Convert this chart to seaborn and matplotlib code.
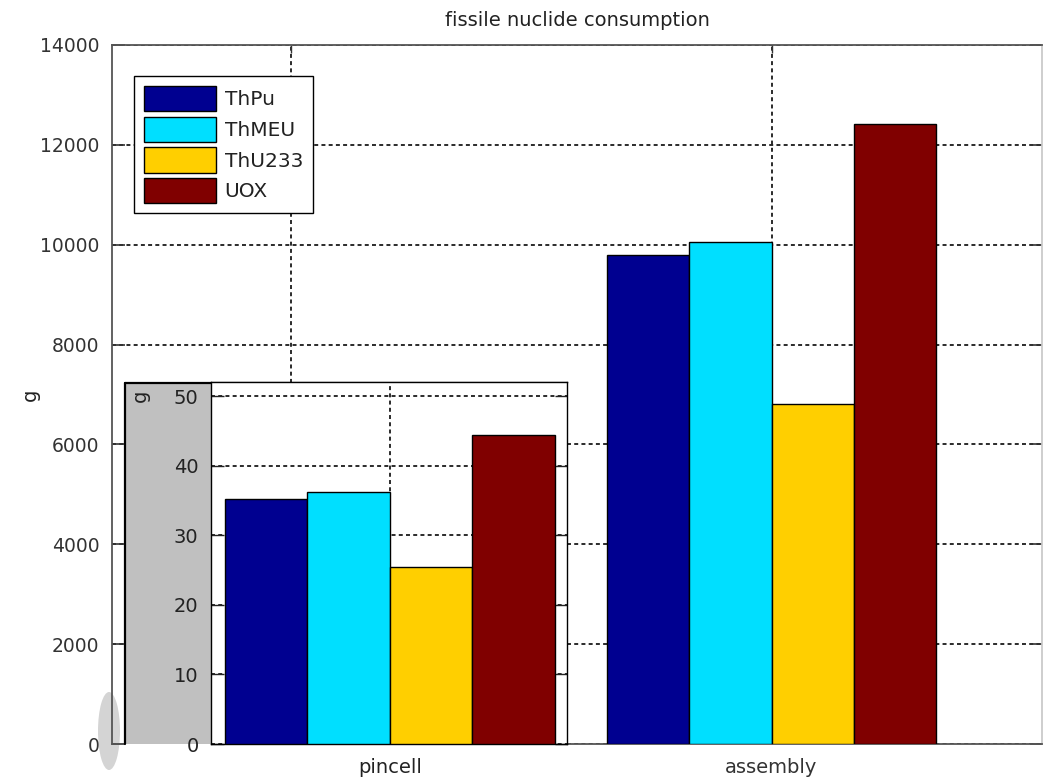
import matplotlib
matplotlib.use("Agg")
import matplotlib.pyplot as plt
from matplotlib.patches import Patch, Ellipse, Rectangle
import seaborn as sns
import pandas as pd

# ---- data ----
cases = ["pincell", "assembly"]
fuels = ["ThPu", "ThMEU", "ThU233", "UOX"]
pincell_g = [35.3, 36.2, 25.4, 44.4]
assembly_g = [9800, 10060, 6800, 12410]
fuel_colors = ["#000090", "#00DFFF", "#FFCF00", "#800000"]
main_yticks = [0, 2000, 4000, 6000, 8000, 10000, 12000, 14000]
inset_yticks = [0, 10, 20, 30, 40, 50]

df = pd.DataFrame({
    "case": [c for c in cases for _ in fuels],
    "fuel": fuels * len(cases),
    "g": pincell_g + assembly_g,
})
df_pin = df[df["case"] == cases[0]]

sns.set_theme(style="white")
plt.rcParams["font.family"] = ["DejaVu Sans"]

W, H = 1043, 781
fig = plt.figure(figsize=(W / 100, H / 100), dpi=100)
fig.patch.set_facecolor("white")


def fx(px):
    return px / W


def fy(py):
    return 1 - py / H


grid_kw = dict(color="#1a1a1a", linewidth=1.3, linestyle=(0, (2.2, 1.8)))
group_width = 0.686

# ---- main axes ----
ax = fig.add_axes([fx(112), fy(744), fx(1042) - fx(112), fy(45) - fy(744)])
ax.set_facecolor("none")
sns.barplot(data=df, x="case", y="g", hue="fuel", order=cases, hue_order=fuels,
            palette=fuel_colors, width=group_width, edgecolor="black",
            linewidth=1.0, saturation=1, ax=ax, legend=False, zorder=3)
ax.set_xlim(-0.3715, 1.5624)
ax.set_ylim(0, 14000)
ax.set_yticks(main_yticks)
ax.set_yticklabels([str(v) for v in main_yticks], fontsize=13.5, color="#222222")
ax.set_xticks([0, 1])
ax.set_xticklabels(["", cases[1]], fontsize=14, color="#222222")
ax.set_xlabel("")
ax.set_ylabel("")
ax.grid(True, axis="both", **grid_kw)
ax.set_axisbelow(True)
ax.tick_params(axis="y", direction="in", length=9, width=1.2, left=True,
               right=True, pad=9, colors="#333333")
ax.tick_params(axis="x", direction="in", length=6, width=1.0, bottom=True,
               top=True, pad=10, colors="#333333")
for s in ["left", "bottom", "top"]:
    ax.spines[s].set_color("#555555")
    ax.spines[s].set_linewidth(1.3)
ax.spines["right"].set_color("#c8c8c8")
ax.set_title("fissile nuclide consumption", fontsize=14, pad=14, color="#222222")

legend_handles = [Patch(facecolor=c, edgecolor="black", linewidth=1.0) for c in fuel_colors]
leg = ax.legend(legend_handles, fuels, loc="upper left",
                bbox_to_anchor=((134 - 112) / 930, (744 - 76) / 699),
                borderaxespad=0, fontsize=14.5, fancybox=False, shadow=False,
                framealpha=1, edgecolor="black", handlelength=3.55,
                handleheight=1.55, labelspacing=0.27, handletextpad=0.45,
                borderpad=0.5)
leg.get_frame().set_linewidth(1.0)
for t in leg.get_texts():
    t.set_color("#222222")

fig.text(fx(30), fy(395), "g", rotation=90, ha="center", va="center",
         fontsize=14, color="#222222")

# soft grey blot at the lower-left corner
blot = Ellipse((fx(109), fy(731)), fx(22), 78 / H, transform=fig.transFigure,
               facecolor="#d4d4d4", edgecolor="none", zorder=-1)
fig.patches.append(blot)

# ---- inset panel (grey frame holding the pincell axes) ----
panel = fig.add_axes([fx(125), fy(781), fx(566.5) - fx(125), fy(382.5) - fy(781)])
panel.set_xlim(0, 1)
panel.set_ylim(0, 1)
panel.set_xticks([])
panel.set_yticks([])
panel.set_facecolor("white")
for s in panel.spines.values():
    s.set_visible(False)
grey_h = (744 - 382.5) / (781 - 382.5)
panel.add_patch(Rectangle((0, 1 - grey_h), (211 - 125) / (566.5 - 125), grey_h,
                          facecolor="#c0c0c0", edgecolor="none"))
panel.plot([0, 0], [1 - grey_h, 1], color="black", lw=1.6, clip_on=False)
panel.plot([0, 1], [1, 1], color="black", lw=1.6, clip_on=False)
panel.text((140 - 125) / (566.5 - 125), 1 - (396 - 382.5) / (781 - 382.5), "g",
           rotation=90, ha="center", va="center", fontsize=14, color="#222222")

# ---- inset axes: pincell ----
ins = fig.add_axes([fx(211), fy(744), fx(566.5) - fx(211), fy(382.5) - fy(744)])
ins.set_facecolor("white")
sns.barplot(data=df_pin, x="case", y="g", hue="fuel", order=cases[:1],
            hue_order=fuels, palette=fuel_colors, width=group_width,
            edgecolor="black", linewidth=1.0, saturation=1, ax=ins,
            legend=False, zorder=3)
ins.set_xlim(-0.372, 0.367)
ins.set_ylim(0, 52)
ins.set_yticks(inset_yticks)
ins.set_yticklabels([str(v) for v in inset_yticks], fontsize=14, color="#222222")
ins.set_xticks([0])
ins.set_xticklabels([cases[0]], fontsize=14, color="#222222")
ins.set_xlabel("")
ins.set_ylabel("")
ins.grid(True, axis="both", **grid_kw)
ins.set_axisbelow(True)
ins.tick_params(axis="y", direction="in", length=9, width=1.0, left=True,
                right=True, pad=9, colors="#222222")
ins.tick_params(axis="x", direction="in", length=0, pad=10, colors="#222222")
for s in ins.spines.values():
    s.set_color("black")
    s.set_linewidth(1.0)

fig.savefig("out.png", dpi=100, facecolor="white")
